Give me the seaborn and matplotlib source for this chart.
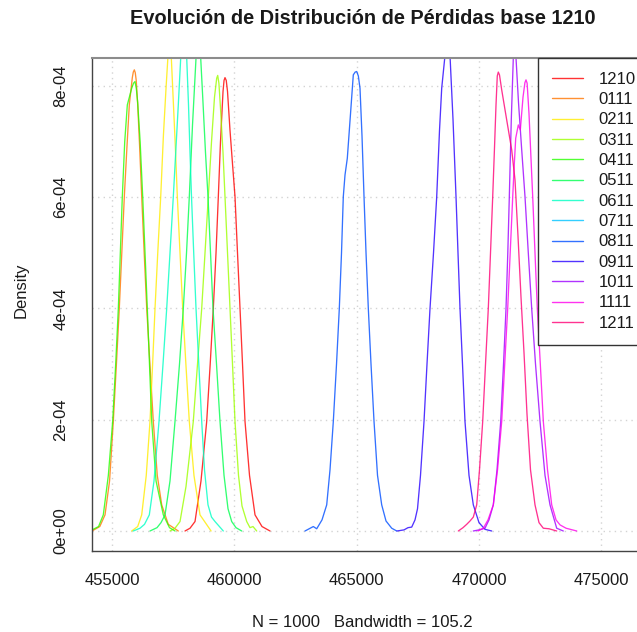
import matplotlib
matplotlib.use("Agg")
import matplotlib.pyplot as plt
from matplotlib.lines import Line2D
import seaborn as sns
import pandas as pd

# ---------------- data ----------------
series = ["1210", "0111", "0211", "0311", "0411", "0511", "0611",
          "0711", "0811", "0911", "1011", "1111", "1211"]
colors = ["#FF0000", "#FF7600", "#FFEC00", "#9DFF00", "#27FF00", "#00FF4E",
          "#00FFC4", "#00C4FF", "#004EFF", "#2700FF", "#9D00FF", "#FF00EB",
          "#FF0076"]

# density values are in units of 1e-4
x_1210 = [457984, 458189, 458393, 458638, 458871, 459014, 459141, 459252, 459346,
          459435, 459538, 459580, 459619, 459670, 459722, 459824, 459926, 460028,
          460130, 460233, 460335, 460437, 460621, 460846, 461132, 461459]
d_1210 = [0, 0.05, 0.17, 0.9, 1.97, 3.0, 4.0, 5.0, 6.01, 7.0, 7.9, 8.1, 8.15,
          8.1, 7.9, 7.2, 6.6, 6.01, 5.0, 4.0, 3.0, 1.97, 1.0, 0.29, 0.08, 0]

x_0111 = [454182, 454500, 454714, 454900, 455053, 455180, 455298, 455400, 455503,
          455610, 455707, 455830, 455870, 455912, 455950, 455990, 456051, 456130,
          456214, 456315, 456419, 456550, 456688, 456850, 457032, 457300, 457710]
d_0111 = [0, 0.08, 0.29, 0.9, 1.97, 3.0, 4.0, 5.0, 6.01, 6.9, 7.66, 8.15, 8.25,
          8.29, 8.24, 8.1, 7.66, 6.9, 6.01, 5.0, 4.0, 3.0, 1.97, 1.0, 0.47, 0.12, 0]

x_0211 = [455805, 456050, 456214, 456400, 456553, 456660, 456758, 456870, 456991,
          457100, 457208, 457290, 457350, 457420, 457481, 457580, 457670, 457780,
          457890, 458020, 458160, 458350, 458597, 459050]
d_0211 = [0, 0.08, 0.29, 1.0, 1.97, 3.0, 4.0, 5.0, 6.01, 7.1, 7.96, 8.55, 8.7,
          8.55, 7.96, 7.0, 6.01, 5.0, 4.0, 3.0, 1.97, 1.0, 0.29, 0]

x_0311 = [457371, 457575, 457780, 458025, 458323, 458495, 458667, 458802, 458937,
          459068, 459190, 459280, 459321, 459370, 459435, 459538, 459619, 459722,
          459824, 459926, 460028, 460171, 460314, 460507, 460641, 460764, 460915]
d_0311 = [0, 0.05, 0.17, 0.8, 1.97, 3.0, 4.0, 5.0, 6.01, 7.0, 7.8, 8.14, 8.19,
          8.05, 7.6, 6.8, 6.01, 5.0, 4.0, 3.0, 1.97, 1.0, 0.45, 0.17, 0.06, 0.08, 0]

x_0411 = [454182, 454450, 454644, 454850, 455027, 455150, 455258, 455340, 455421,
          455520, 455626, 455805, 455880, 455940, 455995, 456050, 456150, 456255,
          456350, 456443, 456623, 456800, 457097, 457350, 457575]
d_0411 = [0.02, 0.08, 0.29, 1.0, 1.97, 3.0, 4.0, 5.0, 6.01, 7.0, 7.66, 7.96,
          8.05, 8.08, 7.95, 7.7, 7.0, 6.01, 5.0, 4.0, 1.97, 0.9, 0.29, 0.06, 0]

x_0511 = [456553, 456840, 457003, 457167, 457371, 457575, 457759, 457915, 458046,
          458160, 458291, 458434, 458528, 458626, 458720, 458822, 458924, 459027,
          459129, 459272, 459415, 459579, 459742, 459893, 460069, 460302]
d_0511 = [0, 0.06, 0.15, 0.29, 0.9, 1.97, 3.0, 4.0, 5.0, 6.01, 7.3, 8.5, 8.7,
          8.5, 7.7, 6.8, 6.01, 5.0, 4.0, 3.0, 1.97, 1.0, 0.4, 0.17, 0.06, 0]

x_0611 = [455871, 456145, 456329, 456525, 456717, 456921, 457085, 457236, 457371,
          457506, 457616, 457710, 457808, 457923, 458054, 458127, 458189, 458250,
          458340, 458434, 458548, 458667, 458781, 458924, 459068, 459211, 459550]
d_0611 = [0, 0.05, 0.12, 0.29, 0.9, 1.97, 3.0, 4.0, 5.0, 6.01, 6.9, 7.66, 8.5,
          8.75, 8.5, 7.66, 6.8, 6.01, 5.0, 4.0, 3.0, 1.97, 1.1, 0.47, 0.25,
          0.17, 0]

x_0711 = []   # no visible curve for 0711 in the reference
d_0711 = []

x_0811 = [462890, 463229, 463368, 463585, 463777, 463912, 464047, 464178, 464292,
          464382, 464455, 464525, 464619, 464750, 464864, 464940, 465003, 465070,
          465138, 465220, 465302, 465384, 465478, 465588, 465711, 465854, 466025,
          466201, 466434, 466639]
d_0811 = [0, 0.08, 0.04, 0.2, 0.47, 1.1, 1.97, 3.0, 4.0, 5.0, 6.01, 6.4, 6.7,
          7.5, 8.2, 8.25, 8.26, 8.18, 7.96, 7.1, 6.01, 5.0, 4.0, 3.0, 1.97, 1.0,
          0.47, 0.18, 0.05, 0]

x_0911 = [466651, 466937, 467101, 467252, 467387, 467489, 467611, 467755, 467877,
          468000, 468143, 468274, 468388, 468478, 468613, 468715, 468817, 468940,
          469063, 469144, 469226, 469328, 469430, 469594, 469770, 470003, 470248,
          470522]
d_0911 = [0, 0.02, 0.06, 0.07, 0.2, 0.4, 1.0, 1.97, 3.0, 4.0, 5.0, 6.01, 7.2,
          7.96, 8.55, 8.7, 8.55, 7.4, 6.01, 5.0, 4.0, 3.0, 1.97, 1.0, 0.47, 0.15,
          0.03, 0]

x_1011 = [469770, 470003, 470248, 470412, 470588, 470739, 470890, 471005, 471107,
          471180, 471242, 471323, 471405, 471458, 471516, 471618, 471741, 471883,
          472018, 472157, 472313, 472497, 472701, 472905, 473179, 473449]
d_1011 = [0, 0.02, 0.05, 0.2, 0.47, 1.1, 1.97, 3.0, 4.0, 5.0, 6.01, 7.4, 8.5,
          8.8, 8.5, 7.7, 6.9, 6.01, 5.0, 4.0, 3.0, 1.97, 1.0, 0.47, 0.05, 0]

x_1111 = [469962, 470179, 470371, 470588, 470760, 470931, 471054, 471176, 471278,
          471381, 471446, 471503, 471610, 471692, 471802, 471880, 471924, 471970,
          472047, 472198, 472292, 472386, 472509, 472632, 472803, 472975, 473151,
          473314, 473560, 473997]
d_1111 = [0, 0.05, 0.2, 0.47, 1.1, 1.97, 3.0, 4.0, 5.0, 6.01, 6.6, 7.06, 7.30,
          7.21, 7.8, 8.06, 8.11, 8.05, 7.5, 6.01, 5.0, 4.0, 3.0, 1.97, 1.1, 0.47,
          0.2, 0.11, 0.05, 0]

x_1211 = [469157, 469349, 469500, 469635, 469770, 469909, 470023, 470154, 470269,
          470383, 470473, 470563, 470637, 470698, 470750, 470792, 470840, 470931,
          471135, 471340, 471475, 471597, 471720, 471843, 471965, 472108, 472292,
          472456, 472632, 472865, 473179]
d_1211 = [0, 0.06, 0.12, 0.18, 0.25, 0.47, 1.1, 1.97, 3.0, 4.0, 5.0, 6.01, 6.9,
          7.66, 8.18, 8.25, 8.2, 7.93, 7.39, 6.85, 6.31, 5.3, 4.2, 3.2, 2.1, 1.1,
          0.47, 0.15, 0.05, 0.04, 0]

xs = [x_1210, x_0111, x_0211, x_0311, x_0411, x_0511, x_0611, x_0711,
      x_0811, x_0911, x_1011, x_1111, x_1211]
ds = [d_1210, d_0111, d_0211, d_0311, d_0411, d_0511, d_0611, d_0711,
      d_0811, d_0911, d_1011, d_1111, d_1211]

xticks = [455000, 460000, 465000, 470000, 475000]
yticks = [0, 2e-4, 4e-4, 6e-4, 8e-4]
ytick_labels = ["0e+00", "2e-04", "4e-04", "6e-04", "8e-04"]
title = "Evolución de Distribución de Pérdidas base 1210"
xlabel = "N = 1000   Bandwidth = 105.2"
ylabel = "Density"

rows = []
for name, xv, dv in zip(series, xs, ds):
    for a, b in zip(xv, dv):
        rows.append({"serie": name, "x": a, "density": b * 1e-4})
df = pd.DataFrame(rows)

# ---------------- style ----------------
sns.set_theme(style="white")
plt.rcParams["font.family"] = ["Liberation Sans", "DejaVu Sans"]
plt.rcParams["font.size"] = 12

W, H = 637, 632
fig = plt.figure(figsize=(W / 100, H / 100), dpi=100)
left_px, right_px, top_px, bot_px = 92, 660, 58, 551
ax = fig.add_axes([left_px / W, 1 - bot_px / H,
                   (right_px - left_px) / W, (bot_px - top_px) / H])

palette = dict(zip(series, colors))
for name in series:
    sub = df[df["serie"] == name]
    if len(sub) == 0:
        continue
    sns.lineplot(data=sub, x="x", y="density", color=palette[name], ax=ax,
                 sort=False, estimator=None, linewidth=0.95, alpha=0.8,
                 legend=False)

ax.set_xlim(454182, 477402)
ax.set_ylim(-0.3596e-4, 8.503e-4)

ax.set_xticks(xticks)
ax.set_xticklabels([str(v) for v in xticks])
ax.set_yticks(yticks)
ax.set_yticklabels(ytick_labels, rotation=90, va="center")
ax.tick_params(axis="both", direction="out", length=7, width=1,
               colors="#333333", labelsize=12, labelcolor="#1a1a1a")
ax.tick_params(axis="x", pad=9)
ax.tick_params(axis="y", pad=10)
ax.set_xlabel("")
ax.set_ylabel("")

for v in xticks:
    ax.axvline(v, color="#d3d3d3", linewidth=1.0, linestyle=(0, (1, 3)), zorder=0)
for v in yticks:
    ax.axhline(v, color="#d3d3d3", linewidth=1.0, linestyle=(0, (1, 3)), zorder=0)

for s in ["left", "bottom", "right"]:
    ax.spines[s].set_color("#444444")
    ax.spines[s].set_linewidth(1.0)
ax.spines["top"].set_color("#8c8c8c")
ax.spines["top"].set_linewidth(1.5)

handles = [Line2D([0], [0], color=c, linewidth=1.0, alpha=0.8) for c in colors]
leg = ax.legend(handles, series, loc="upper left",
                bbox_to_anchor=(538.3 / W, 1 - top_px / H),
                bbox_transform=fig.transFigure, borderaxespad=0,
                frameon=True, fancybox=False, framealpha=1,
                edgecolor="#333333", facecolor="white", fontsize=12,
                handlelength=1.86, handletextpad=0.92, labelspacing=0.32,
                borderpad=0.83)
leg.get_frame().set_linewidth(1.0)
for t in leg.get_texts():
    t.set_color("#1a1a1a")

fig.text(363 / W, 1 - 24 / H, title, ha="center", va="baseline",
         fontsize=14.4, fontweight="bold", color="#1a1a1a")
fig.text(362 / W, 1 - 627 / H, xlabel, ha="center", va="baseline",
         fontsize=12, color="#1a1a1a")
fig.text(21.5 / W, 1 - 290 / H, ylabel, ha="center", va="center",
         rotation=90, fontsize=12, color="#1a1a1a")

fig.savefig("out.png", dpi=100)
